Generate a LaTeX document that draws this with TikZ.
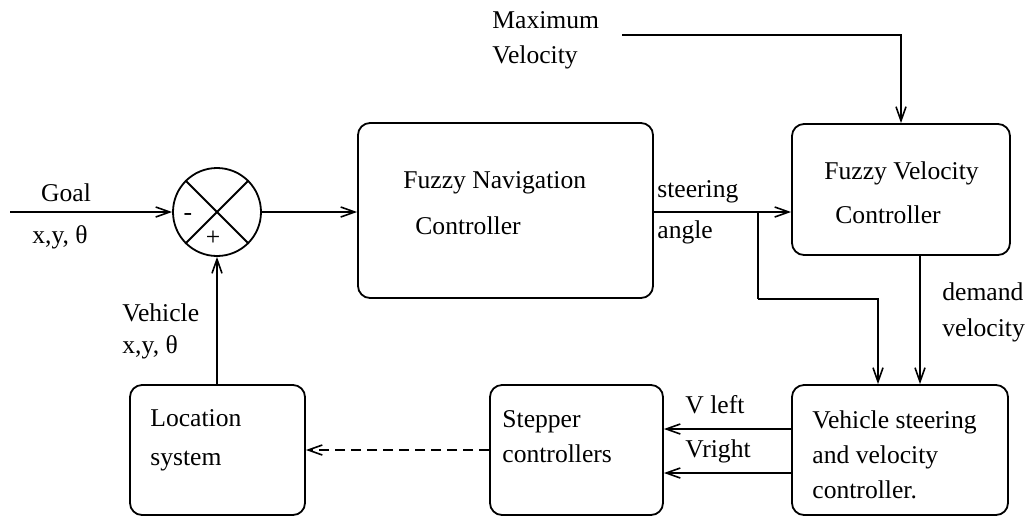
\documentclass[tikz,border=0pt]{standalone}
\usepackage{fontspec}
\setmainfont{Liberation Serif}
\usetikzlibrary{positioning,arrows.meta,calc}
\tikzset{
    block/.style={draw, line width=0.9pt, rounded corners=6pt, inner sep=0pt},
    sumnode/.style={draw, circle, line width=0.9pt, minimum size=44pt, inner sep=0pt},
    lbl/.style={font=\fontsize{12.8}{17.5}\selectfont, inner sep=0pt, align=left},
    arrow/.style={-{Straight Barb[length=7pt,width=5pt]}, line width=0.8pt},
    wire/.style={line width=0.9pt}
}

\begin{document}
\begin{tikzpicture}[x=0.5pt,y=-0.5pt]
\useasboundingbox (0,0) rectangle (1033,516);
% blocks
\node[sumnode] (sum) at (217,212) {};
\draw[wire] (sum.45) -- (sum.225);
\draw[wire] (sum.135) -- (sum.315);
\node[block, minimum width=147.5pt, minimum height=87.5pt] (nav) at (505.5,210.5) {};
\node[block, minimum width=109pt, minimum height=65.5pt] (vel) at (901,189.5) {};
\node[block, minimum width=108pt, minimum height=65pt] (vsc) at (900,450) {};
\node[block, minimum width=86.5pt, minimum height=65pt] (step) at (576.5,450) {};
\node[block, minimum width=87.5pt, minimum height=65pt] (loc) at (217.5,450) {};
% texts in blocks
\node[lbl, anchor=west] (navtop) at (403,183) {Fuzzy Navigation};
\node[lbl, anchor=west] (navbot) at (415,226) {Controller};
\node[lbl, anchor=west] (veltop) at (824,173) {Fuzzy Velocity};
\node[lbl, anchor=west] (velbot) at (835,215) {Controller};
\node[lbl, anchor=west] (vsctxt) at (812,455) {Vehicle steering\\and velocity\\controller.};
\node[lbl, anchor=west] (steptxt) at (502,437) {Stepper\\controllers};
\node[lbl, anchor=west] (loctxt) at (150,440) {Location\\[2pt]system};
% signs in the summing point
\node[lbl] (minus) at (188,217) {-};
\node[lbl] (plus) at (213,238) {+};
% free ends
\coordinate (goal) at (10,212);
\coordinate (maxv) at (622,35);
\coordinate (br) at (758,212);
% connectors
\draw[arrow] (goal) -- (sum.west);
\draw[arrow] (sum.east) -- (sum.east -| nav.west);
\draw[arrow] (nav.east |- sum.east) -- (sum.east -| vel.west);
\draw[wire] (br) -- (br |- nav.south);
\draw[arrow] (br |- nav.south) -| ($(vsc.north)+(-22,0)$);
\draw[arrow] ($(vel.south)+(19,0)$) -- ($(vsc.north)+(20,0)$);
\draw[arrow] (maxv) -| (vel.north);
\draw[arrow] (loc.north -| sum.south) -- (sum.south);
\draw[arrow] ($(vsc.west)+(0,-21)$) -- ($(step.east)+(0,-21)$);
\draw[arrow] ($(vsc.west)+(0,23)$) -- ($(step.east)+(0,23)$);
\draw[arrow, dash pattern=on 5pt off 3pt] (step.west) -- (loc.east);
% labels
\node[lbl] (goallbl) at (66,193) {Goal};
\node[lbl] (goalxy) at (60,237) {x,y, θ};
\node[lbl, anchor=west] (vehlbl) at (122,313) {Vehicle};
\node[lbl, anchor=west] (vehxy) at (122,347) {x,y, θ};
\node[lbl, anchor=west] (steer) at (657,192) {steering};
\node[lbl, anchor=west] (angle) at (657,232) {angle};
\node[lbl, anchor=west] (dem) at (942,292) {demand};
\node[lbl, anchor=west] (demv) at (942,330) {velocity};
\node[lbl, anchor=west] (maxlbl) at (492,20) {Maximum};
\node[lbl, anchor=west] (maxv2) at (492,57) {Velocity};
\node[lbl, anchor=west] (vleft) at (685,405) {V left};
\node[lbl, anchor=west] (vright) at (685,451) {Vright};
\end{tikzpicture}
\end{document}
